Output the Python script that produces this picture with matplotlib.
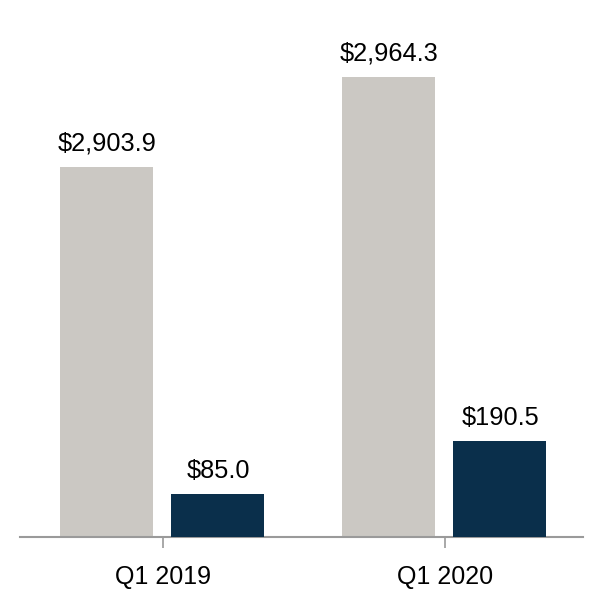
import matplotlib.pyplot as plt
import numpy as np

# values
quarters = ['Q1 2019', 'Q1 2020']
gray_vals = [2903.9, 2964.3]
dark_vals = [85.0, 190.5]

gray_color = '#CBC8C3'
dark_color = '#0A2F4B'

plt.rcParams['font.family'] = ['Liberation Sans', 'DejaVu Sans']

fig = plt.figure(figsize=(6.04, 6.0), dpi=100)
ax = fig.add_axes([20 / 604, 1 - 537 / 600, 563 / 604, 519 / 600])
ax2 = ax.twinx()

x = np.arange(len(quarters))
w = 0.33
off = 0.197

ax.bar(x - off - 0.004, gray_vals, width=w, color=gray_color, zorder=2)
ax2.bar(x + off - 0.004, dark_vals, width=w, color=dark_color, zorder=2)

ax.set_xlim(-0.507, 1.489)
ax.set_ylim(2655.6, 3003.9)
ax2.set_ylim(0, 1031.8)

for xi, v in zip(x - off, gray_vals):
    ax.annotate(f'${v:,.1f}', (xi, v), xytext=(0, 8), textcoords='offset points',
                ha='center', va='bottom', fontsize=18.3)
for xi, v in zip(x + off, dark_vals):
    ax2.annotate(f'${v:,.1f}', (xi, v), xytext=(0, 8), textcoords='offset points',
                 ha='center', va='bottom', fontsize=18.3)

for a in (ax, ax2):
    for s in ('top', 'right', 'left'):
        a.spines[s].set_visible(False)
    a.set_yticks([])
ax2.spines['bottom'].set_visible(False)
ax.spines['bottom'].set_color('#9A9A9A')
ax.spines['bottom'].set_linewidth(1.5)

ax.set_xticks(x)
ax.set_xticklabels(quarters, fontsize=18)
ax.tick_params(axis='x', length=8, width=1.2, color='#9A9A9A', pad=12)

plt.savefig('out.png', dpi=100)
plt.close()
